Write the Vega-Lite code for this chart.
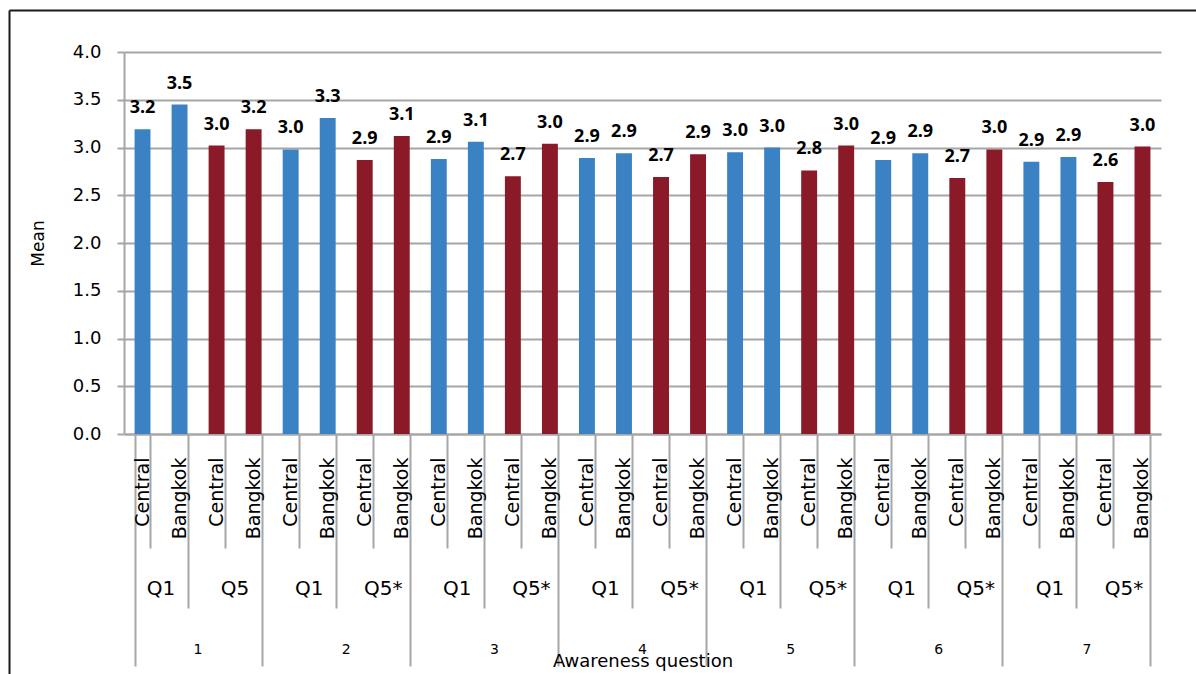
{
  "$schema": "https://vega.github.io/schema/vega-lite/v6.json",
  "width": 1037,
  "height": 382,
  "autosize": "none",
  "padding": {"left": 124, "top": 52, "right": 35, "bottom": 240},
  "background": "white",
  "config": {"view": {"stroke": null}, "font": "DejaVu Sans"},
  "data": {"values": [
    {"id": "1|Q1|Central", "group": "1", "question": "Q1", "region": "Central", "mean": 3.19},
    {"id": "1|Q1|Bangkok", "group": "1", "question": "Q1", "region": "Bangkok", "mean": 3.45},
    {"id": "1|Q5|Central", "group": "1", "question": "Q5", "region": "Central", "mean": 3.02},
    {"id": "1|Q5|Bangkok", "group": "1", "question": "Q5", "region": "Bangkok", "mean": 3.19},
    {"id": "2|Q1|Central", "group": "2", "question": "Q1", "region": "Central", "mean": 2.98},
    {"id": "2|Q1|Bangkok", "group": "2", "question": "Q1", "region": "Bangkok", "mean": 3.31},
    {"id": "2|Q5*|Central", "group": "2", "question": "Q5*", "region": "Central", "mean": 2.87},
    {"id": "2|Q5*|Bangkok", "group": "2", "question": "Q5*", "region": "Bangkok", "mean": 3.12},
    {"id": "3|Q1|Central", "group": "3", "question": "Q1", "region": "Central", "mean": 2.88},
    {"id": "3|Q1|Bangkok", "group": "3", "question": "Q1", "region": "Bangkok", "mean": 3.06},
    {"id": "3|Q5*|Central", "group": "3", "question": "Q5*", "region": "Central", "mean": 2.7},
    {"id": "3|Q5*|Bangkok", "group": "3", "question": "Q5*", "region": "Bangkok", "mean": 3.04},
    {"id": "4|Q1|Central", "group": "4", "question": "Q1", "region": "Central", "mean": 2.89},
    {"id": "4|Q1|Bangkok", "group": "4", "question": "Q1", "region": "Bangkok", "mean": 2.94},
    {"id": "4|Q5*|Central", "group": "4", "question": "Q5*", "region": "Central", "mean": 2.69},
    {"id": "4|Q5*|Bangkok", "group": "4", "question": "Q5*", "region": "Bangkok", "mean": 2.93},
    {"id": "5|Q1|Central", "group": "5", "question": "Q1", "region": "Central", "mean": 2.95},
    {"id": "5|Q1|Bangkok", "group": "5", "question": "Q1", "region": "Bangkok", "mean": 3.0},
    {"id": "5|Q5*|Central", "group": "5", "question": "Q5*", "region": "Central", "mean": 2.76},
    {"id": "5|Q5*|Bangkok", "group": "5", "question": "Q5*", "region": "Bangkok", "mean": 3.02},
    {"id": "6|Q1|Central", "group": "6", "question": "Q1", "region": "Central", "mean": 2.87},
    {"id": "6|Q1|Bangkok", "group": "6", "question": "Q1", "region": "Bangkok", "mean": 2.94},
    {"id": "6|Q5*|Central", "group": "6", "question": "Q5*", "region": "Central", "mean": 2.68},
    {"id": "6|Q5*|Bangkok", "group": "6", "question": "Q5*", "region": "Bangkok", "mean": 2.98},
    {"id": "7|Q1|Central", "group": "7", "question": "Q1", "region": "Central", "mean": 2.85},
    {"id": "7|Q1|Bangkok", "group": "7", "question": "Q1", "region": "Bangkok", "mean": 2.9},
    {"id": "7|Q5*|Central", "group": "7", "question": "Q5*", "region": "Central", "mean": 2.64},
    {"id": "7|Q5*|Bangkok", "group": "7", "question": "Q5*", "region": "Bangkok", "mean": 3.01}
  ]},
  "layer": [
    {
      "layer": [
        {
          "mark": {"type": "bar"},
          "encoding": {
            "x": {
              "field": "id", "type": "nominal", "sort": null,
              "scale": {"paddingInner": 0.57, "paddingOuter": 0.285},
              "axis": {
                "orient": "bottom", "title": null, "labels": false, "grid": false,
                "tickBand": "extent",
                "ticks": true,
                "tickColor": "#a6a6a6", "tickWidth": 2,
                "tickSize": {"expr": "datum.extra ? 232 : (indexof(datum.value, 'Q5') >= 0 && indexof(datum.value, 'Bangkok') >= 0) ? 232 : indexof(datum.value, 'Bangkok') >= 0 ? 174 : 114"},
                "domain": true, "domainColor": "#a6a6a6", "domainWidth": 2
              }
            },
            "y": {
              "field": "mean", "type": "quantitative",
              "scale": {"domain": [0, 4], "nice": false},
              "axis": {
                "title": "Mean", "titleFontSize": 17, "titleFontWeight": "normal", "titleColor": "#000000",
                "titlePadding": 25, "titleFont": "DejaVu Sans",
                "values": [0, 0.5, 1, 1.5, 2, 2.5, 3, 3.5, 4], "format": ".1f",
                "labelFontSize": 18, "labelColor": "#000000", "labelPadding": 16, "labelFont": "DejaVu Sans",
                "tickSize": 7, "tickColor": "#a6a6a6", "tickWidth": 2,
                "grid": true, "gridColor": "#a6a6a6", "gridWidth": 2,
                "domain": true, "domainColor": "#a6a6a6", "domainWidth": 2
              }
            },
            "color": {
              "field": "question", "type": "nominal",
              "scale": {"domain": ["Q1", "Q5", "Q5*"], "range": ["#3b82c4", "#8a1a27", "#8a1a27"]},
              "legend": null
            }
          }
        },
        {
          "mark": {"type": "text", "font": "Open Sans", "fontWeight": "bold", "fontSize": 18, "baseline": "alphabetic", "dy": -16, "color": "#000000"},
          "encoding": {
            "x": {
              "field": "id", "type": "nominal", "sort": null,
              "axis": {
                "orient": "bottom", "title": null, "ticks": false, "domain": false, "grid": false,
                "labelExpr": "split(datum.value, '|')[2]",
                "labelAngle": -90, "labelAlign": "right", "labelBaseline": "middle",
                "labelPadding": 23, "labelFontSize": 19, "labelColor": "#000000", "labelFont": "DejaVu Sans"
              }
            },
            "y": {"field": "mean", "type": "quantitative"},
            "text": {"field": "mean", "type": "quantitative", "format": ".1f"}
          }
        },
        {
          "mark": {"type": "point", "opacity": 0},
          "encoding": {
            "x": {
              "field": "id", "type": "nominal", "sort": null,
              "axis": {
                "orient": "bottom", "title": null, "ticks": false, "domain": false, "grid": false,
                "labelExpr": "indexof(datum.value, 'Bangkok') >= 0 ? split(datum.value, '|')[1] : ''",
                "labelAngle": 0, "labelOffset": -18.52, "labelPadding": 144,
                "labelFontSize": 20, "labelColor": "#000000", "labelFont": "DejaVu Sans"
              }
            }
          }
        },
        {
          "mark": {"type": "point", "opacity": 0},
          "encoding": {
            "x": {
              "field": "id", "type": "nominal", "sort": null,
              "axis": {
                "orient": "bottom", "ticks": false, "domain": false, "grid": false,
                "title": "Awareness question", "titleFontSize": 18, "titleFontWeight": "normal",
                "titleColor": "#000000", "titleFont": "DejaVu Sans", "titlePadding": 18,
                "labelExpr": "(indexof(datum.value, 'Q5') >= 0 && indexof(datum.value, 'Central') >= 0) ? split(datum.value, '|')[0] : ''",
                "labelAngle": 0, "labelOffset": -18.52, "labelPadding": 208,
                "labelFontSize": 14, "labelColor": "#000000", "labelFont": "DejaVu Sans"
              }
            }
          }
        }
      ],
      "resolve": {"axis": {"x": "independent"}}
    },
    {
      "mark": {"type": "point", "opacity": 0, "clip": true},
      "encoding": {
        "x": {
          "field": "mean", "type": "quantitative",
          "scale": {"domain": [0, 1], "range": [-115, 1200], "nice": false, "zero": false},
          "axis": {
            "orient": "top", "offset": 42, "title": null, "labels": false, "ticks": false, "grid": false,
            "domain": true, "domainColor": "#1a1a1a", "domainWidth": 2
          }
        },
        "y": {
          "field": "mean", "type": "quantitative",
          "scale": {"domain": [0, 1], "range": [760, -42], "nice": false, "zero": false},
          "axis": {
            "orient": "left", "offset": 115, "title": null, "labels": false, "ticks": false, "grid": false,
            "domain": true, "domainColor": "#1a1a1a", "domainWidth": 2
          }
        }
      }
    }
  ],
  "resolve": {"scale": {"x": "independent", "y": "independent"}, "axis": {"x": "independent", "y": "independent"}}
}
